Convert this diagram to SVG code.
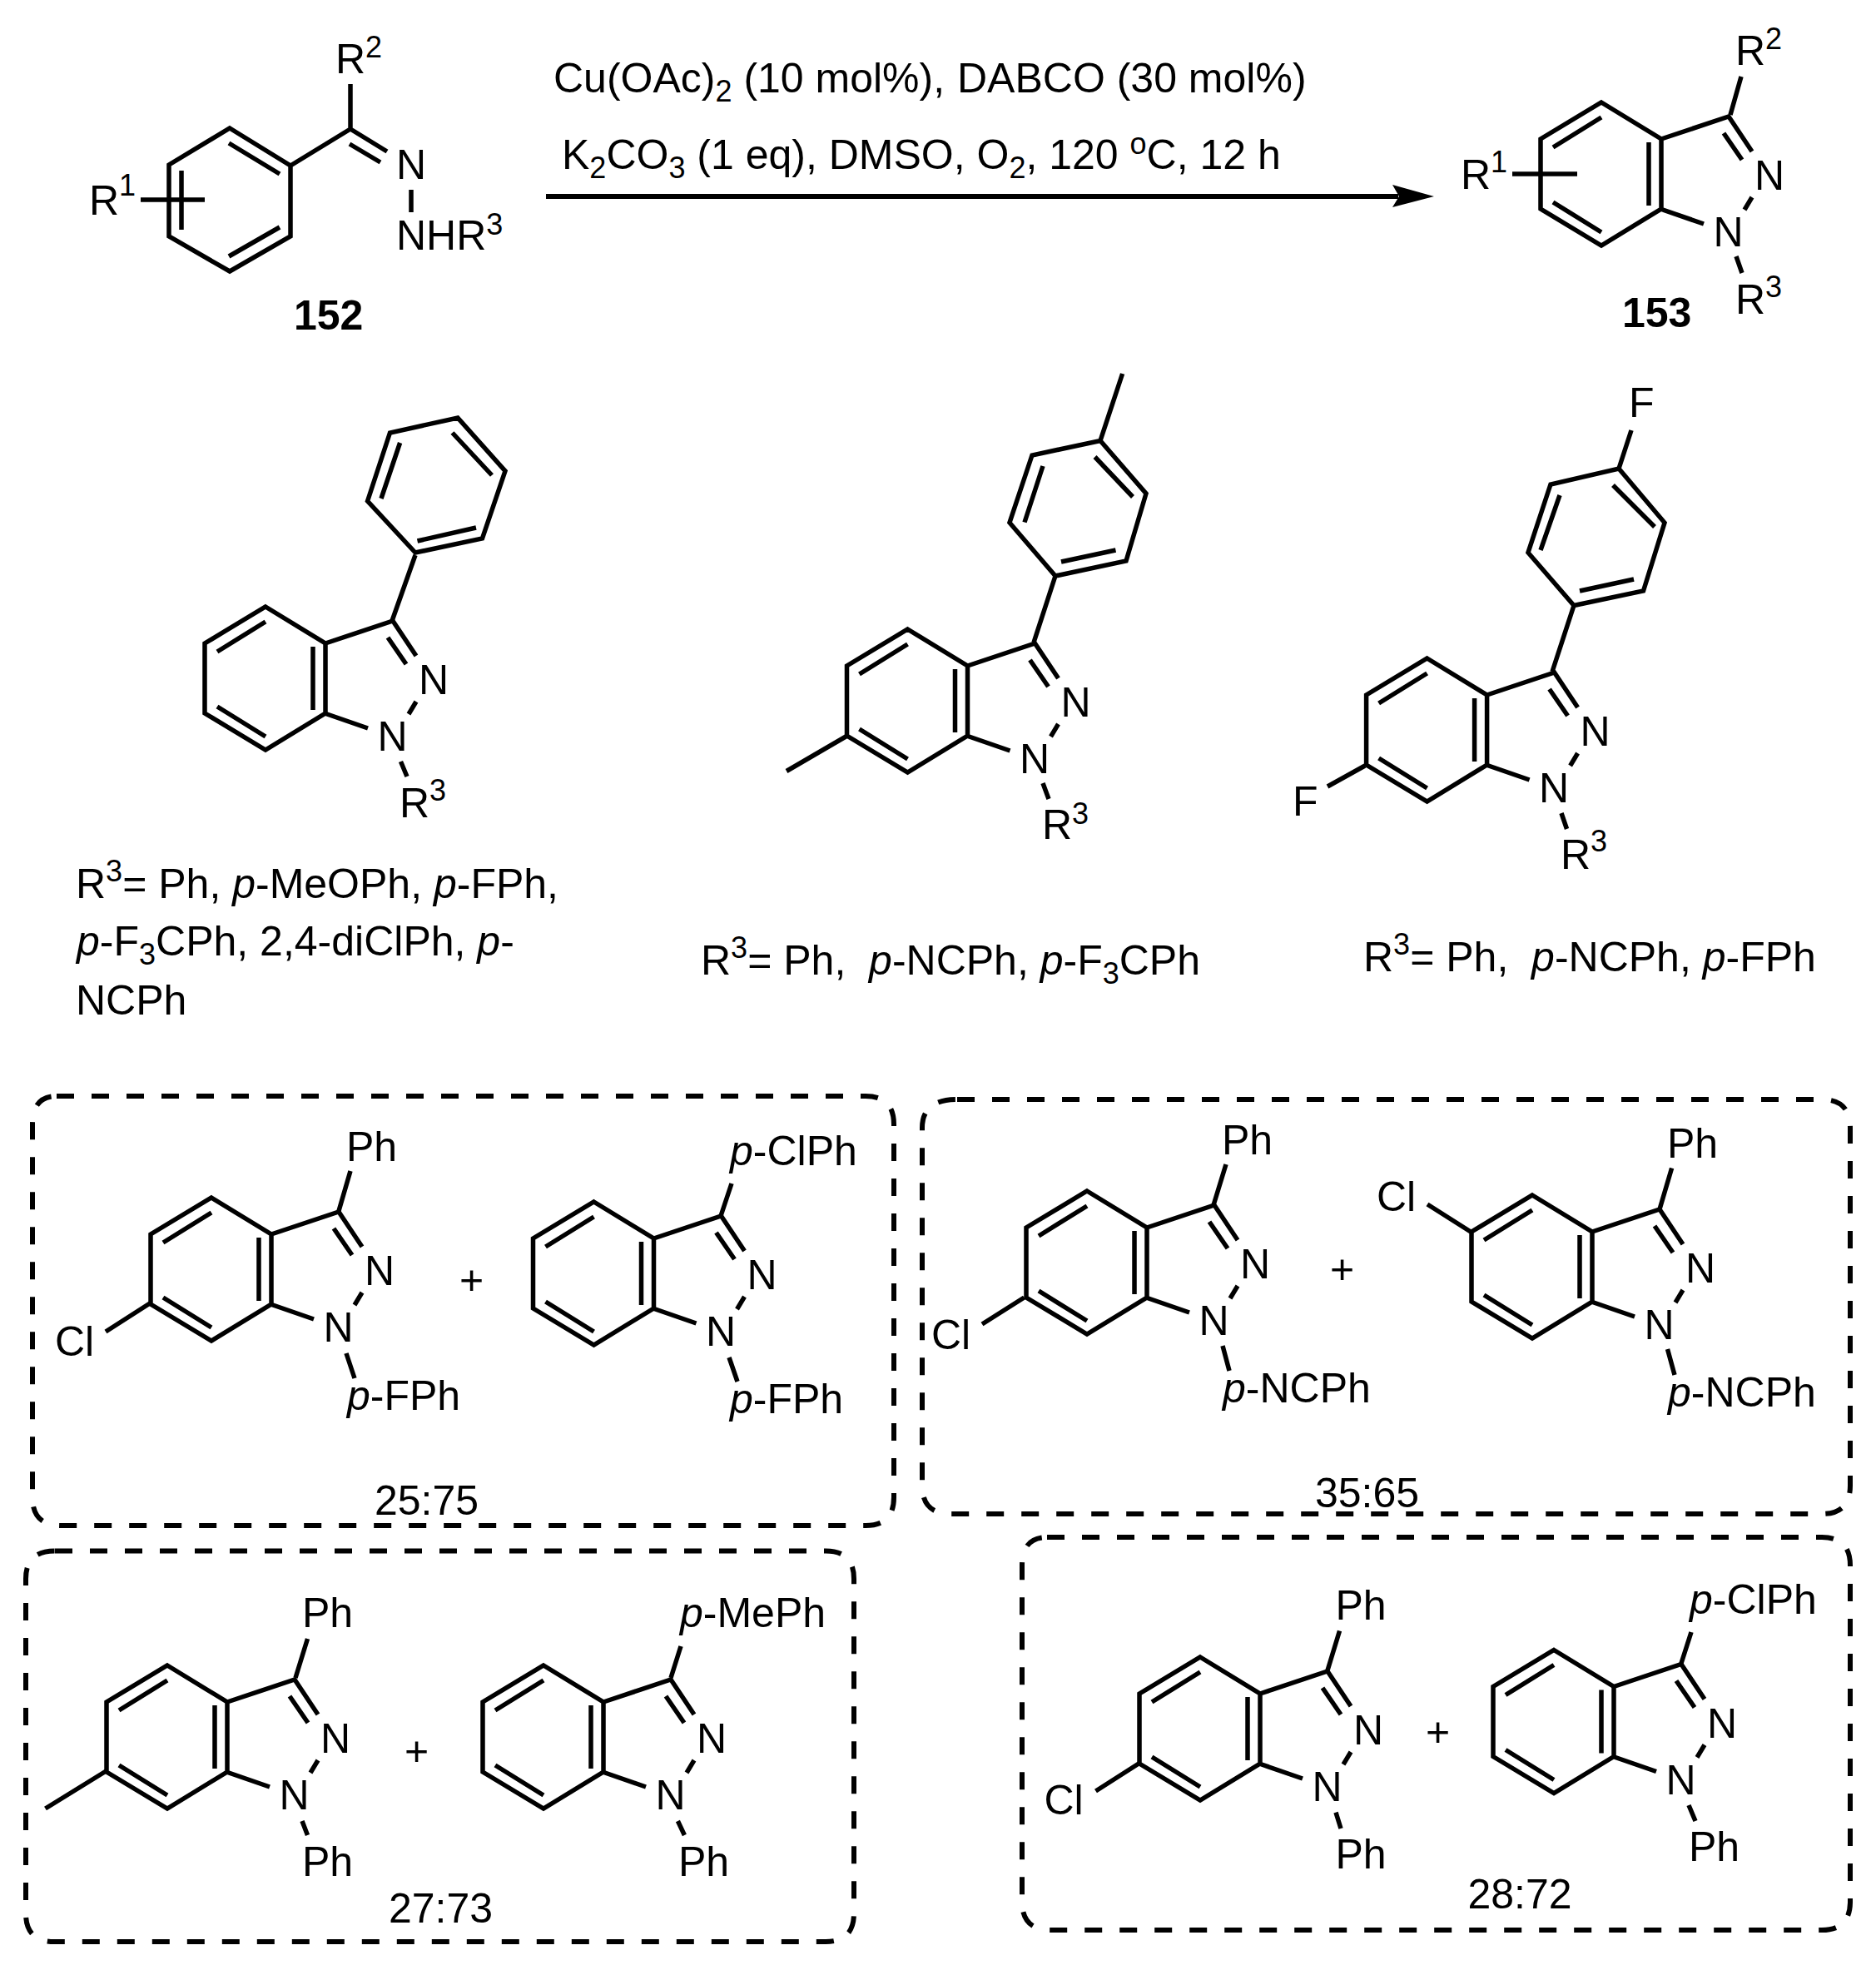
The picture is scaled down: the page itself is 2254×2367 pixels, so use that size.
<svg xmlns="http://www.w3.org/2000/svg" xmlns:xlink="http://www.w3.org/1999/xlink" width="2254" height="2367" viewBox="0 0 2254 2367">
<style>
text{font-family:"Liberation Sans",Arial,sans-serif;font-size:50px;fill:#000;white-space:pre}
.b{font-weight:bold}
.i{font-style:italic}
.s{font-size:36px}
.bond{fill:none;stroke:#000;stroke-width:5.5;stroke-linejoin:miter;stroke-linecap:butt}
.frame{fill:none;stroke:#000;stroke-width:6;stroke-dasharray:21 21}
</style>
<defs>
<g id="indazole"><path class="bond" d="M0 0L72 44V128L0 172L-73 128V44ZM72 44L153 17L181 59M147 37L169 69M181 114L172 129M71 128L123 146M0 18L-58 54M-58 120L0 156M57 48V124"/></g>
</defs>
<rect width="2254" height="2367" fill="#fff"/>
<g id="connectors">
<path d="M656 236H1680" fill="none" stroke="#000" stroke-width="6"/>
<polygon points="1723,236 1673,222 1681,236 1673,249" fill="#000"/>
</g>
<g id="conditions">
<text x="665" y="111">Cu(OAc)<tspan class="s" dy="11">2</tspan><tspan dy="-11"> (10 mol%),</tspan></text>
<text x="1150" y="111">DABCO (30 mol%)</text>
<text x="675" y="203">K<tspan class="s" dy="11">2</tspan><tspan dy="-11">CO</tspan><tspan class="s" dy="11">3</tspan><tspan dy="-11"> (1 eq), DMSO, O</tspan><tspan class="s" dy="11">2</tspan><tspan dy="-11">, 120 </tspan><tspan class="s" dy="-18">o</tspan><tspan dy="18">C, 12 h</tspan></text>
</g>
<g id="mol-152">
<path class="bond" d="M276 154L349 199V284L276 326L203 284V198ZM275 172L336 209M336 273L275 308M218 205V276M349 199L421 155M421 155V101M421 155L465 182M420 173L457 195M494 228V255M169 240H246"/>
<text x="403" y="88">R<tspan class="s" dy="-19">2</tspan></text>
<text x="107" y="258">R<tspan class="s" dy="-23">1</tspan></text>
<text x="476" y="215">N</text>
<text x="476" y="300">NHR<tspan class="s" dy="-18">3</tspan></text>
<text class="b" x="353" y="396">152</text>
</g>
<g id="mol-153">
<use href="#indazole" transform="translate(1924 123)"/>
<path class="bond" d="M2079 138L2092 92M2086 308L2093 328M1817 209H1895"/>
<text x="2085" y="78">R<tspan class="s" dy="-19">2</tspan></text>
<text x="1755" y="227">R<tspan class="s" dy="-20">1</tspan></text>
<text x="2108" y="228">N</text><text x="2058.5" y="296">N</text>
<text x="2085" y="377">R<tspan class="s" dy="-20">3</tspan></text>
<text class="b" x="1949" y="393">153</text>
</g>
<g id="mol-1">
<use href="#indazole" transform="translate(319 729)"/>
<path class="bond" d="M499 664L441.6 602L468.5 520L550 502L607 566L579.5 647ZM543.5 520L591 571M480.6 532L458 599M501.5 650L572 634M471 746L499 667M481.5 915L489 933"/>
<text x="503" y="834">N</text><text x="453.5" y="902">N</text>
<text x="480" y="982">R<tspan class="s" dy="-20">3</tspan></text>
<text x="91" y="1079">R<tspan class="s" dy="-20">3</tspan><tspan dy="20">= Ph, </tspan><tspan class="i">p</tspan>-MeOPh, <tspan class="i">p</tspan>-FPh,</text>
<text x="92" y="1148"><tspan class="i">p</tspan>-F<tspan class="s" dy="11">3</tspan><tspan dy="-11">CPh, 2,4-diClPh, </tspan><tspan class="i">p</tspan>-</text>
<text x="91" y="1219">NCPh</text>
</g>
<g id="mol-2">
<use href="#indazole" transform="translate(1090.5 756)"/>
<path class="bond" d="M1018 884L945 926.5M1268 692L1353 674L1377 593L1322 529.5L1240 547L1213 628ZM1322 529.5L1348.6 449M1315.5 549L1361 597M1253 560L1231 627.5M1275 675L1340.5 661M1242 772L1268 692M1253 941L1260 960"/>
<text x="1274.5" y="861">N</text><text x="1225" y="929">N</text>
<text x="1252" y="1008">R<tspan class="s" dy="-18">3</tspan></text>
<text x="842" y="1171">R<tspan class="s" dy="-20">3</tspan><tspan dy="20">= Ph,  </tspan><tspan class="i">p</tspan>-NCPh, <tspan class="i">p</tspan>-F<tspan class="s" dy="11">3</tspan><tspan dy="-11">CPh</tspan></text>
</g>
<g id="mol-3">
<use href="#indazole" transform="translate(1714.6 791)"/>
<path class="bond" d="M1640 920L1595 945M1891 727.5L1974.5 710L2000 628L1945 563L1863 582L1836 664ZM1945 563L1960 517M1938 583L1988 633M1874 595L1851 661M1898 710L1963 696M1865 807L1891 727.5M1876 977L1882.5 996"/>
<text x="1898.5" y="896">N</text><text x="1849" y="964">N</text>
<text x="1957" y="501">F</text>
<text x="1553" y="980">F</text>
<text x="1875" y="1044">R<tspan class="s" dy="-21">3</tspan></text>
<text x="1638" y="1167">R<tspan class="s" dy="-20">3</tspan><tspan dy="20">= Ph,  </tspan><tspan class="i">p</tspan>-NCPh, <tspan class="i">p</tspan>-FPh</text>
</g>
<g id="box-a">
<path class="frame" d="M68 1317H1040Q1074 1317 1074 1351V1799Q1074 1833 1040 1833H73Q39 1833 39 1799V1351Q39 1317 68 1317Z"/>
<use href="#indazole" transform="translate(254 1439)"/>
<path class="bond" d="M407 1455L421 1407M416 1626L426 1656M180 1566L127 1600"/>
<text x="438" y="1544">N</text><text x="388.5" y="1612">N</text>
<text x="416" y="1395">Ph</text>
<text x="66" y="1629">Cl</text>
<text x="417" y="1694"><tspan class="i">p</tspan>-FPh</text>
<text x="552" y="1555">+</text>
<use href="#indazole" transform="translate(713.5 1444)"/>
<path class="bond" d="M866 1461L879 1422M876 1631L886 1660"/>
<text x="897.5" y="1549">N</text><text x="848" y="1617">N</text>
<text x="877" y="1400"><tspan class="i">p</tspan>-ClPh</text>
<text x="877" y="1698"><tspan class="i">p</tspan>-FPh</text>
<text x="450" y="1820">25:75</text>
</g>
<g id="box-b">
<path class="frame" d="M1150 1321H2189Q2223 1321 2223 1355V1785Q2223 1819 2189 1819H1142Q1108 1819 1108 1785V1355Q1108 1321 1150 1321Z"/>
<use href="#indazole" transform="translate(1306 1431)"/>
<path class="bond" d="M1458 1448L1473 1399M1469 1617L1477 1647M1230.5 1559L1180 1591"/>
<text x="1490" y="1536">N</text><text x="1440.5" y="1604">N</text>
<text x="1468" y="1387">Ph</text>
<text x="1119" y="1621">Cl</text>
<text x="1469" y="1685"><tspan class="i">p</tspan>-NCPh</text>
<text x="1598" y="1542">+</text>
<use href="#indazole" transform="translate(1841 1436)"/>
<path class="bond" d="M1994 1453L2008.6 1403.5M2003.5 1621L2012 1652M1767 1480L1715 1447"/>
<text x="2025" y="1541">N</text><text x="1975.5" y="1609">N</text>
<text x="2003" y="1390.5">Ph</text>
<text x="1654" y="1455">Cl</text>
<text x="2004" y="1689.5"><tspan class="i">p</tspan>-NCPh</text>
<text x="1580" y="1811">35:65</text>
</g>
<g id="box-c">
<path class="frame" d="M66 1863.5H992Q1026 1863.5 1026 1897V2299Q1026 2333 992 2333H65Q31 2333 31 2299V1897Q31 1863.5 66 1863.5Z"/>
<use href="#indazole" transform="translate(201 2001)"/>
<path class="bond" d="M355 2016L369.5 1969M363 2188L369.5 2205M127.4 2128L54.5 2173"/>
<text x="385" y="2106">N</text><text x="335.5" y="2174">N</text>
<text x="363" y="1955">Ph</text>
<text x="363" y="2254">Ph</text>
<text x="486" y="2121">+</text>
<use href="#indazole" transform="translate(653 2001)"/>
<path class="bond" d="M806 2016L818 1978M814.4 2188L822.4 2205"/>
<text x="837" y="2106">N</text><text x="787.5" y="2174">N</text>
<text x="817" y="1955"><tspan class="i">p</tspan>-MePh</text>
<text x="815" y="2254">Ph</text>
<text x="467" y="2310">27:73</text>
</g>
<g id="box-d">
<path class="frame" d="M1258 1847H2189Q2223 1847 2223 1881V2285Q2223 2319 2189 2319H1262Q1228 2319 1228 2285V1881Q1228 1847 1258 1847Z"/>
<use href="#indazole" transform="translate(1442 1991)"/>
<path class="bond" d="M1595 2007L1609.5 1959.5M1605 2177.6L1611 2197M1368.5 2118.7L1316.5 2152"/>
<text x="1626" y="2096">N</text><text x="1576.5" y="2164">N</text>
<text x="1604.5" y="1946">Ph</text>
<text x="1254.5" y="2180">Cl</text>
<text x="1604.5" y="2245">Ph</text>
<text x="1713" y="2098">+</text>
<use href="#indazole" transform="translate(1867 1982.5)"/>
<path class="bond" d="M2020 1998.5L2032 1961M2029 2169L2037 2188"/>
<text x="2051" y="2087.5">N</text><text x="2001.5" y="2155.5">N</text>
<text x="2030" y="1939"><tspan class="i">p</tspan>-ClPh</text>
<text x="2029" y="2236">Ph</text>
<text x="1763.5" y="2293">28:72</text>
</g>
</svg>
